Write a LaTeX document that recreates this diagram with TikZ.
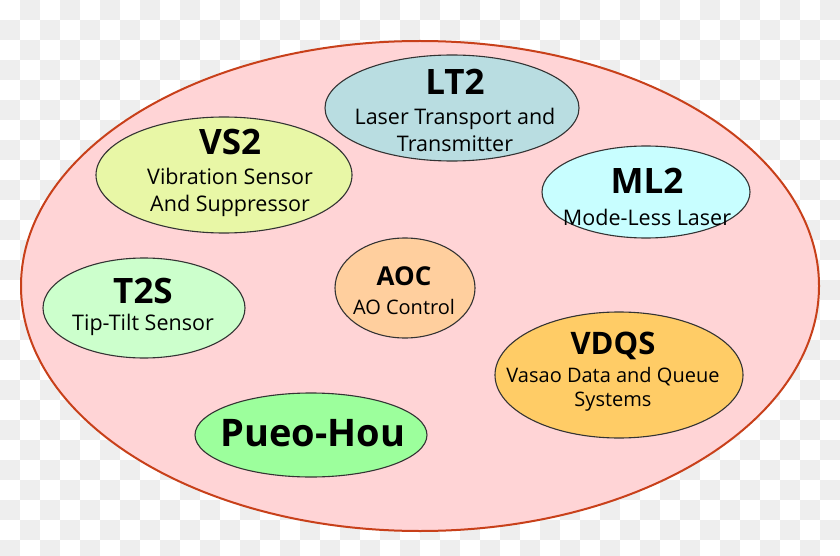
\documentclass[tikz,border=0pt]{standalone}
\usepackage{fontspec}
\setmainfont{Open Sans}
\usetikzlibrary{shapes.geometric}
\definecolor{checker}{HTML}{EEEEEE}
\definecolor{outerfill}{HTML}{FFD4D6}
\definecolor{outerline}{HTML}{C8401A}
\definecolor{innerline}{HTML}{333333}
\definecolor{ltc}{HTML}{B9DDE1}
\definecolor{vsc}{HTML}{E8F7A6}
\definecolor{mlc}{HTML}{C8FEFF}
\definecolor{tsc}{HTML}{CCFFCC}
\definecolor{aoc}{HTML}{FFCF9E}
\definecolor{vdc}{HTML}{FFCC66}
\definecolor{puc}{HTML}{9CFF9C}
\tikzset{
  ell/.style={ellipse, draw=innerline, line width=1.1pt, inner sep=0pt},
  ttl/.style={font=\fontsize{35}{38}\selectfont\bfseries, inner sep=0pt},
  sub/.style={font=\fontsize{21.5}{27}\selectfont, align=center, inner sep=0pt}
}
\begin{document}
\begin{tikzpicture}[x=1pt,y=-1pt]
\useasboundingbox (0,0) rectangle (840,556);
\begin{scope}
\clip (0,0) rectangle (840,556);
\fill[white] (0,0) rectangle (840,556);
\foreach \i in {0,...,41}{
  \foreach \j in {0,...,27}{
    \pgfmathtruncatemacro\chk{mod(\i+\j,2)}
    \ifnum\chk=1 \fill[checker] (\i*20,\j*20) rectangle ++(20,20); \fi
  }
}
\end{scope}
\node[ellipse, draw=outerline, fill=outerfill, line width=2pt, inner sep=0pt,
      minimum width=798pt, minimum height=490pt] (outer) at (420,286) {};

\node[ell, fill=ltc, minimum width=254pt, minimum height=106pt] (lt2) at (452,108) {};
\node[ttl] (lt2t) at (455,82) {LT2};
\node[sub] (lt2s) at (455,130) {Laser Transport and\\Transmitter};

\node[ell, fill=vsc, minimum width=256pt, minimum height=116pt] (vs2) at (224,175) {};
\node[ttl] (vs2t) at (230,142) {VS2};
\node[sub] (vs2s) at (230,192) {Vibration Sensor\\And Suppressor};

\node[ell, fill=mlc, minimum width=208pt, minimum height=92pt] (ml2) at (646,192) {};
\node[ttl] (ml2t) at (647,181) {ML2};
\node[sub] (ml2s) at (647,217) {Mode-Less Laser};

\node[ell, fill=tsc, minimum width=202pt, minimum height=100pt] (t2s) at (144,308) {};
\node[ttl] (t2st) at (143,291) {T2S};
\node[sub] (t2ss) at (143,325) {Tip-Tilt Sensor};

\node[ell, fill=aoc, minimum width=140pt, minimum height=100pt] (aoc) at (405,288) {};
\node[ttl, font=\fontsize{26}{30}\selectfont\bfseries] (aoct) at (404,276) {AOC};
\node[sub, font=\fontsize{20}{24}\selectfont] (aocs) at (404,307) {AO Control};

\node[ell, fill=vdc, minimum width=248pt, minimum height=126pt] (vdqs) at (619,375) {};
\node[ttl, font=\fontsize{31}{34}\selectfont\bfseries] (vdqst) at (613,346) {VDQS};
\node[sub, font=\fontsize{20}{24}\selectfont] (vdqss) at (613,389) {Vasao Data and Queue\\Systems};

\node[ell, fill=puc, minimum width=232pt, minimum height=84pt] (pueo) at (311,435) {};
\node[ttl, font=\fontsize{38}{42}\selectfont\bfseries] (pueot) at (313,433) {Pueo-Hou};
\end{tikzpicture}
\end{document}
